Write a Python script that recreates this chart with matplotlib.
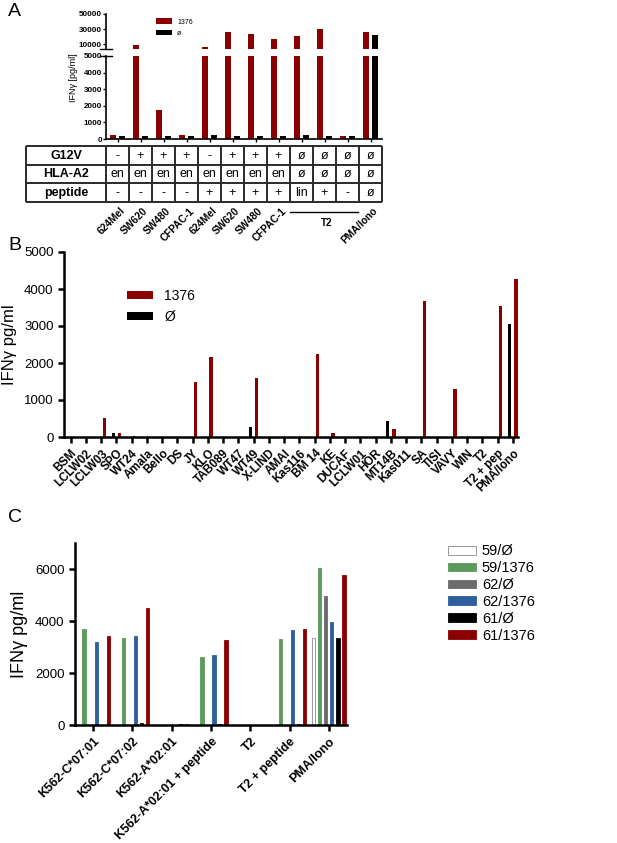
import matplotlib
matplotlib.use('Agg')
import matplotlib.pyplot as plt
import numpy as np
from matplotlib.patches import Patch

plt.rcParams['font.family'] = ['Liberation Sans', 'DejaVu Sans']

W, H = 617, 843
RED = '#8B0000'

# ---------------- Panel A data ----------------
a_red = [230, 9500, 1750, 220, 7000, 26000, 24300, 17800, 21300, 30900, 180, 26000]
a_black = [180, 200, 180, 190, 220, 200, 180, 210, 220, 190, 200, 22200]
a_row_names = ['G12V', 'HLA-A2', 'peptide']
a_g12v = ['-', '+', '+', '+', '-', '+', '+', '+', 'ø', 'ø', 'ø', 'ø']
a_hla = ['en', 'en', 'en', 'en', 'en', 'en', 'en', 'en', 'ø', 'ø', 'ø', 'ø']
a_pep = ['-', '-', '-', '-', '+', '+', '+', '+', 'lin', '+', '-', 'ø']
a_labels = ['624Mel', 'SW620', 'SW480', 'CFPAC-1', '624Mel', 'SW620', 'SW480',
            'CFPAC-1', '', '', '', 'PMA/Iono']
a_group_label = 'T2'

# ---------------- Panel B data ----------------
b_cats = ['BSM', 'LCLW02', 'LCLW03', 'SPO', 'WT24', 'Amala', 'Bello', 'DS', 'JY', 'KLO',
          'TAB089', 'WT47', 'WT49', 'X-LIND', 'AMAI', 'Kas116', 'BM 14', 'KE', 'DUCAF',
          'LCLW01', 'HOR', 'MT14B', 'Kas011', 'SA', 'TISI', 'VAVY', 'WIN', 'T2',
          'T2 + pep', 'PMA/Iono']
b_red = [0, 0, 520, 110, 25, 0, 0, 0, 1500, 2170, 0, 0, 1600, 0, 0, 0, 2240, 100, 0,
         0, 0, 210, 0, 3680, 0, 1300, 0, 0, 3550, 4280]
b_black = [0, 0, 0, 110, 0, 0, 0, 0, 0, 0, 0, 0, 280, 0, 0, 0, 0, 0, 0,
           0, 0, 430, 0, 0, 0, 0, 0, 0, 0, 3050]

# ---------------- Panel C data ----------------
c_groups = ['K562-C*07:01', 'K562-C*07:02', 'K562-A*02:01', 'K562-A*02:01 + peptide',
            'T2', 'T2 + peptide', 'PMA/Iono']
c_series = ['59/Ø', '59/1376', '62/Ø', '62/1376', '61/Ø', '61/1376']
c_59_0 = [0, 0, 0, 0, 0, 0, 3330]
c_59_1376 = [3680, 3350, 0, 2600, 0, 3320, 6050]
c_62_0 = [0, 0, 0, 0, 0, 0, 4970]
c_62_1376 = [3200, 3420, 0, 2680, 0, 3640, 3960]
c_61_0 = [0, 80, 50, 40, 0, 20, 3330]
c_61_1376 = [3420, 4500, 30, 3280, 0, 3690, 5780]

fig = plt.figure(figsize=(W / 100, H / 100), dpi=100)


def ax_px(x0, y0, x1, y1):
    return fig.add_axes([x0 / W, 1 - y1 / H, (x1 - x0) / W, (y1 - y0) / H])


def style_axis(ax, lw=1.8):
    for s in ['top', 'right']:
        ax.spines[s].set_visible(False)
    for s in ['left', 'bottom']:
        ax.spines[s].set_linewidth(lw)
    ax.tick_params(width=lw, length=4, direction='out')


# ================= Panel A =================
xa = np.arange(len(a_red))
bw_a = 0.27
ax_up = ax_px(106, 14, 382, 49)
ax_lo = ax_px(106, 56, 382, 139)
for ax in (ax_up, ax_lo):
    ax.bar(xa - 0.19, a_red, bw_a, color=RED, label='1376')
    ax.bar(xa + 0.19, a_black, bw_a, color='black', label='ø')
    ax.set_xlim(-0.5, len(a_red) - 0.5)
    style_axis(ax, lw=1.2)
    ax.tick_params(length=2, width=1.0, labelsize=5.8, pad=1)
ax_lo.set_ylim(0, 5000)
ax_lo.set_yticks(range(0, 5001, 1000))
ax_lo.set_xticks(xa)
ax_lo.set_xticklabels([])
ax_up.set_ylim(4000, 50000)
ax_up.set_yticks([10000, 30000, 50000])
ax_up.spines['bottom'].set_visible(False)
ax_up.set_xticks([])
for ax in (ax_up, ax_lo):
    for lab in ax.get_yticklabels():
        lab.set_fontweight('bold')
# break marks
ax_up.plot([-0.02, 0.02], [0, 0], transform=ax_up.transAxes, color='black', lw=1.0, clip_on=False)
ax_lo.plot([-0.02, 0.02], [1, 1], transform=ax_lo.transAxes, color='black', lw=1.0, clip_on=False)
fig.text(73 / W, 1 - 78 / H, 'IFNγ [pg/ml]', rotation=90, fontsize=6.5, ha='center', va='center')
ax_up.legend(loc='upper left', bbox_to_anchor=(153 / W, 1 - 15 / H),
             bbox_transform=fig.transFigure, frameon=False, fontsize=5,
             handlelength=2.2, handleheight=0.8, labelspacing=0.6, borderpad=0)

# Table
ax_t = ax_px(26, 146, 382, 202)
x_left = -0.5 - (106 - 26) / ((382 - 106) / 12)
ax_t.set_xlim(x_left, len(a_red) - 0.5)
ax_t.set_ylim(3, 0)
ax_t.axis('off')
tcol = '#2a2a2a'
ax_t.hlines([0, 1, 2, 3], x_left, len(a_red) - 0.5, color=tcol, lw=1.4, clip_on=False)
ax_t.vlines([x_left] + list(np.arange(len(a_red) + 1) - 0.5), 0, 3, color=tcol, lw=1.4, clip_on=False)
for r, (name, row) in enumerate(zip(a_row_names, [a_g12v, a_hla, a_pep])):
    ax_t.text((x_left - 0.5) / 2, r + 0.52, name, ha='center', va='center',
              fontsize=9, fontweight='bold')
    for i, v in enumerate(row):
        ax_t.text(i, r + 0.52, v, ha='center', va='center', fontsize=9)
for i, lab in enumerate(a_labels):
    if lab:
        ax_t.text(i + 0.1, 3.2, lab, rotation=45, ha='right', va='top',
                  rotation_mode='anchor', fontsize=7.3, fontweight='bold')
ax_t.plot([7.5, 10.45], [3.55, 3.55], color='black', lw=1.0, clip_on=False)
ax_t.text(9.1, 3.85, a_group_label, ha='center', va='top', fontsize=7, fontweight='bold')

# ================= Panel B =================
xb = np.arange(len(b_cats))
ax_b = ax_px(64, 252, 518, 437)
ax_b.bar(xb + 0.2, b_red, 0.2, color=RED, label='1376')
ax_b.bar(xb - 0.2, b_black, 0.2, color='black', label='Ø')
ax_b.set_xlim(-0.44, len(b_cats) - 0.67)
ax_b.set_ylim(0, 5000)
ax_b.set_yticks(range(0, 5001, 1000))
ax_b.set_xticks(xb)
ax_b.set_xticklabels(b_cats, rotation=45, ha='right', rotation_mode='anchor',
                     fontsize=8.5, fontweight='bold')
style_axis(ax_b, lw=1.8)
ax_b.tick_params(axis='y', labelsize=9.5)
ax_b.set_ylabel('IFNγ pg/ml', fontsize=12, labelpad=5)
ax_b.legend(loc='upper left', bbox_to_anchor=(120 / W, 1 - 282 / H),
            bbox_transform=fig.transFigure, frameon=False, fontsize=10,
            handlelength=1.9, handleheight=0.6, labelspacing=0.5, borderpad=0)

# ================= Panel C =================
xc = np.arange(len(c_groups))
ax_c = ax_px(75, 543, 347, 725)
c_vals = [c_59_0, c_59_1376, c_62_0, c_62_1376, c_61_0, c_61_1376]
c_colors = ['white', '#5C9A5C', '#6B6B6B', '#2F5E9E', 'black', RED]
c_edges = ['#888888', '#5C9A5C', '#6B6B6B', '#2F5E9E', 'black', RED]
step = 0.153
for k, (vals, col, ec, name) in enumerate(zip(c_vals, c_colors, c_edges, c_series)):
    ax_c.bar(xc + (k - 2.5) * step, vals, 0.08, color=col, edgecolor=ec,
             linewidth=0.6, label=name)
ax_c.set_xlim(-0.46, len(c_groups) - 0.54)
ax_c.set_ylim(0, 7000)
ax_c.set_yticks([0, 2000, 4000, 6000])
ax_c.set_xticks(xc)
ax_c.set_xticklabels(c_groups, rotation=45, ha='right', rotation_mode='anchor',
                     fontsize=9, fontweight='bold')
style_axis(ax_c, lw=1.8)
ax_c.tick_params(axis='y', labelsize=9.5)
ax_c.set_ylabel('IFNγ pg/ml', fontsize=13, labelpad=5)
handles = [Patch(facecolor=c, edgecolor=e, linewidth=0.6) for c, e in zip(c_colors, c_edges)]
ax_c.legend(handles, c_series, loc='upper left', bbox_to_anchor=(441 / W, 1 - 537 / H),
            bbox_transform=fig.transFigure, frameon=False, fontsize=10.5,
            handlelength=1.9, handleheight=0.55, labelspacing=0.2, borderpad=0,
            handletextpad=0.4)

# panel letters
fig.text(8 / W, 1 - 12 / H, 'A', fontsize=14, ha='left', va='center')
fig.text(8 / W, 1 - 245 / H, 'B', fontsize=14, ha='left', va='center')
fig.text(8 / W, 1 - 517 / H, 'C', fontsize=14, ha='left', va='center')

fig.savefig('out.png', dpi=100)
